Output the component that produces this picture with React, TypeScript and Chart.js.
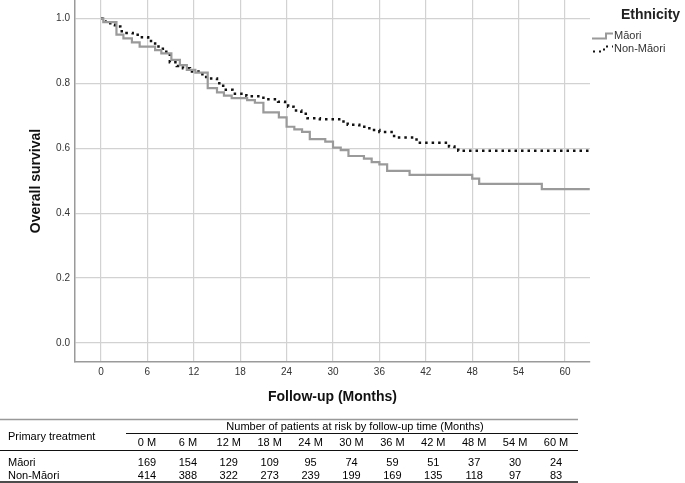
import React, { useEffect, useRef } from "react";
import { Chart, registerables } from "chart.js";

Chart.register(...registerables);

const FONT = '"Liberation Sans", Arial, sans-serif';

const xTickValues = [0, 6, 12, 18, 24, 30, 36, 42, 48, 54, 60];
const yTickValues = [0, 0.2, 0.4, 0.6, 0.8, 1.0];

const maoriTimes = [0, 0.3, 2.0, 2.9, 4.0, 5.0, 7.0, 7.8, 9.1, 10.2, 11.1, 12.2, 13.8, 15.0, 15.9, 16.9, 18.9, 19.9, 21.0, 23.0, 24.0, 25.0, 26.0, 27.0, 29.0, 30.0, 31.0, 32.0, 34.0, 35.0, 36.0, 37.0, 39.9, 48.0, 48.9, 57.0, 63.2];
const maoriSurvival = [1.0, 0.988, 0.95, 0.938, 0.926, 0.913, 0.902, 0.892, 0.872, 0.856, 0.841, 0.833, 0.785, 0.772, 0.762, 0.754, 0.748, 0.74, 0.71, 0.695, 0.666, 0.658, 0.65, 0.628, 0.62, 0.602, 0.594, 0.576, 0.568, 0.557, 0.55, 0.53, 0.518, 0.506, 0.49, 0.474, 0.474];

const nonMaoriTimes = [0, 0.5, 1.2, 1.8, 2.5, 3.3, 4.1, 5.0, 6.1, 7.0, 8.0, 8.9, 9.8, 10.6, 11.5, 12.8, 13.6, 15.0, 15.8, 17.0, 18.8, 21.0, 22.9, 23.8, 24.2, 24.9, 25.9, 26.7, 28.3, 30.8, 31.9, 33.4, 34.7, 36.0, 37.9, 40.8, 45.0, 45.7, 46.2, 63.2];
const nonMaoriSurvival = [1.0, 0.99, 0.98, 0.975, 0.96, 0.955, 0.949, 0.942, 0.93, 0.913, 0.897, 0.865, 0.853, 0.846, 0.836, 0.828, 0.815, 0.8, 0.78, 0.768, 0.76, 0.751, 0.743, 0.736, 0.728, 0.716, 0.706, 0.692, 0.689, 0.682, 0.672, 0.666, 0.656, 0.65, 0.633, 0.617, 0.605, 0.595, 0.592, 0.592];

const riskLabels = ["0 M", "6 M", "12 M", "18 M", "24 M", "30 M", "36 M", "42 M", "48 M", "54 M", "60 M"];
const maoriAtRisk = [169, 154, 129, 109, 95, 74, 59, 51, 37, 30, 24];
const nonMaoriAtRisk = [414, 388, 322, 273, 239, 199, 169, 135, 118, 97, 83];

const seriesNames = ["Māori", "Non-Māori"];
const legendTitle = "Ethnicity";
const tableRowHeader = "Primary treatment";
const tableTitle = "Number of patients at risk by follow-up time (Months)";

const MAORI_COLOR = "#9a9a9a";
const NON_MAORI_COLOR = "#111111";

function toPoints(xs: number[], ys: number[]) {
  return xs.map((x, i) => ({ x, y: ys[i] }));
}

const extrasPlugin = {
  id: "kmExtras",
  afterDraw(chart: any) {
    const ctx = chart.ctx as CanvasRenderingContext2D;
    ctx.save();
    // Legend
    ctx.fillStyle = "#222";
    ctx.font = `bold 14px ${FONT}`;
    ctx.textBaseline = "middle";
    ctx.textAlign = "left";
    ctx.fillText(legendTitle, 621, 15);

    ctx.font = `11px ${FONT}`;
    ctx.fillStyle = "#333";
    // Māori icon
    ctx.strokeStyle = MAORI_COLOR;
    ctx.lineWidth = 2;
    ctx.setLineDash([]);
    ctx.beginPath();
    ctx.moveTo(592, 38.5);
    ctx.lineTo(606, 38.5);
    ctx.lineTo(606, 33.5);
    ctx.lineTo(613, 33.5);
    ctx.stroke();
    ctx.fillText(seriesNames[0], 614, 36);
    // Non-Māori icon
    ctx.strokeStyle = NON_MAORI_COLOR;
    ctx.lineWidth = 2;
    ctx.setLineDash([2, 4]);
    ctx.beginPath();
    ctx.moveTo(593, 51.5);
    ctx.lineTo(604, 51.5);
    ctx.lineTo(604, 46.5);
    ctx.lineTo(613, 46.5);
    ctx.stroke();
    ctx.setLineDash([]);
    ctx.fillText(seriesNames[1], 614, 49);

    // Table
    const right = 578;
    const line = (x1: number, y1: number, x2: number, y2: number, color: string, w: number) => {
      ctx.strokeStyle = color;
      ctx.lineWidth = w;
      ctx.beginPath();
      ctx.moveTo(x1, y1);
      ctx.lineTo(x2, y2);
      ctx.stroke();
    };
    line(0, 419.5, right, 419.5, "#999", 1.5);
    line(126, 433.5, right, 433.5, "#111", 1);
    line(0, 450.5, right, 450.5, "#111", 1);
    line(0, 482, right, 482, "#111", 1.5);

    ctx.fillStyle = "#000";
    ctx.font = `11px ${FONT}`;
    ctx.textAlign = "center";
    ctx.fillText(tableTitle, 355, 426.5);
    ctx.textAlign = "left";
    ctx.fillText(tableRowHeader, 8, 437);
    ctx.fillText(seriesNames[0], 8, 462.5);
    ctx.fillText(seriesNames[1], 8, 475.5);
    ctx.textAlign = "center";
    riskLabels.forEach((lab, i) => {
      const cx = 147 + i * 40.9;
      ctx.fillText(lab, cx, 442.5);
      ctx.fillText(String(maoriAtRisk[i]), cx, 462.5);
      ctx.fillText(String(nonMaoriAtRisk[i]), cx, 475.5);
    });
    ctx.restore();
  },
};

export default function App() {
  const canvasRef = useRef<HTMLCanvasElement | null>(null);

  useEffect(() => {
    const canvas = canvasRef.current;
    if (!canvas) return;
    const chart = new Chart(canvas, {
      type: "line",
      data: {
        datasets: [
          {
            label: seriesNames[0],
            data: toPoints(maoriTimes, maoriSurvival),
            borderColor: MAORI_COLOR,
            borderWidth: 2.2,
            stepped: "before",
            pointRadius: 0,
            fill: false,
          },
          {
            label: seriesNames[1],
            data: toPoints(nonMaoriTimes, nonMaoriSurvival),
            borderColor: NON_MAORI_COLOR,
            borderWidth: 2.5,
            borderDash: [2.5, 4],
            stepped: "before",
            pointRadius: 0,
            fill: false,
          },
        ],
      },
      options: {
        responsive: false,
        animation: false,
        layout: { padding: { left: 0, right: 95, top: 0, bottom: 0 } },
        plugins: {
          legend: { display: false },
          tooltip: { enabled: false },
        },
        scales: {
          x: {
            type: "linear",
            min: -3.36,
            max: 63.23,
            afterFit: (s: any) => {
              s.height = 121;
              s.paddingLeft = 0;
              s.paddingRight = 0;
            },
            afterBuildTicks: (s: any) => {
              s.ticks = xTickValues.map((v) => ({ value: v }));
            },
            ticks: {
              font: { family: FONT, size: 10 },
              color: "#333",
              padding: 4,
              maxRotation: 0,
              autoSkip: false,
              callback: (v: any) => String(v),
            },
            grid: { color: "#d2d2d2", lineWidth: 1.2, drawTicks: false },
            border: { color: "#9a9a9a", width: 1.5 },
            title: {
              display: true,
              text: "Follow-up (Months)",
              font: { family: FONT, size: 14, weight: "bold" },
              color: "#111",
              padding: { top: 0, bottom: 77.6 },
            },
          },
          y: {
            type: "linear",
            min: -0.0585,
            max: 1.0564,
            afterFit: (s: any) => {
              s.width = 75;
              s.paddingTop = 0;
              s.paddingBottom = 0;
            },
            afterBuildTicks: (s: any) => {
              s.ticks = yTickValues.map((v) => ({ value: v }));
            },
            ticks: {
              font: { family: FONT, size: 10 },
              color: "#333",
              padding: 5,
              callback: (v: any) => Number(v).toFixed(1),
            },
            grid: { color: "#d2d2d2", lineWidth: 1.2, drawTicks: false },
            border: { color: "#9a9a9a", width: 1.5 },
            title: {
              display: true,
              text: "Overall survival",
              font: { family: FONT, size: 14, weight: "bold" },
              color: "#111",
              padding: { top: 27.6, bottom: 0 },
            },
          },
        },
      },
      plugins: [extrasPlugin],
    } as any);
    return () => chart.destroy();
  }, []);

  return (
    <div style={{ position: "absolute", left: 0, top: 0, width: 685, height: 483, background: "#fff" }}>
      <canvas ref={canvasRef} width={685} height={483} style={{ display: "block" }} />
    </div>
  );
}
